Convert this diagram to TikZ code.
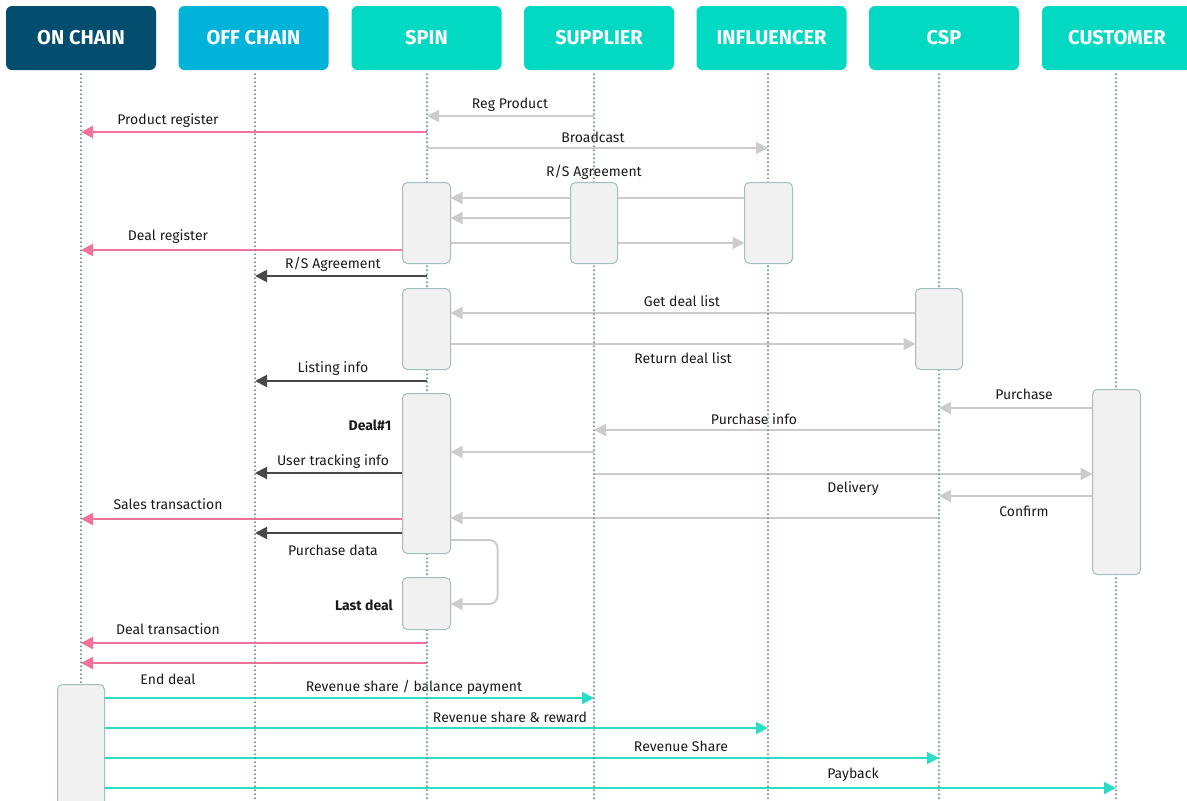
\documentclass[tikz,border=0pt]{standalone}
\usepackage{fontspec}
\setmainfont{Fira Sans}
\usetikzlibrary{arrows.meta}
\definecolor{onc}{HTML}{034D6E}
\definecolor{offc}{HTML}{02B3D9}
\definecolor{tealc}{HTML}{02D9C2}
\definecolor{pinkc}{HTML}{F2729A}
\definecolor{darkc}{HTML}{484848}
\definecolor{grayc}{HTML}{CCCCCC}
\definecolor{tarrc}{HTML}{2BDCC6}
\definecolor{lifec}{HTML}{6F9495}
\definecolor{actb}{HTML}{A3BFBD}
\definecolor{actf}{HTML}{F1F1F1}
\definecolor{txtc}{HTML}{1A1A1A}
\tikzset{
  hdr/.style={rounded corners=6pt, inner sep=0pt, minimum width=150pt, minimum height=64pt,
    text=white, font=\bfseries\fontsize{20}{24}\selectfont},
  life/.style={draw=lifec, line width=2.3pt, line cap=round, dash pattern=on 0pt off 4pt},
  act/.style={draw=actb, fill=actf, rounded corners=5pt, line width=1pt, inner sep=0pt, minimum width=47pt},
  arr/.style={line width=2pt, -{Triangle[length=12pt,width=12pt]}},
  garr/.style={arr, draw=grayc},
  parr/.style={arr, draw=pinkc},
  darr/.style={arr, draw=darkc},
  tarr/.style={arr, draw=tarrc},
  lbl/.style={inner sep=0pt, text=txtc, font=\fontsize{14}{16}\selectfont},
  blbl/.style={lbl, font=\bfseries\fontsize{14}{16}\selectfont},
}
\begin{document}
\begin{tikzpicture}[x=1pt,y=-1pt]
\useasboundingbox (0,0) rectangle (1187,801);
% headers
\node[hdr, fill=onc] (hon) at (81,38) {ON CHAIN};
\node[hdr, fill=offc] (hoff) at (253.5,38) {OFF CHAIN};
\node[hdr, fill=tealc] (hspin) at (426.5,38) {SPIN};
\node[hdr, fill=tealc] (hsup) at (599,38) {SUPPLIER};
\node[hdr, fill=tealc] (hinf) at (771.5,38) {INFLUENCER};
\node[hdr, fill=tealc] (hcsp) at (944,38) {CSP};
\node[hdr, fill=tealc] (hcus) at (1117,38) {CUSTOMER};
% lifeline coordinates
\coordinate (Lon) at (81,0);
\coordinate (Loff) at (255,0);
\coordinate (Lspin) at (427,0);
\coordinate (Lsup) at (594,0);
\coordinate (Linf) at (768,0);
\coordinate (Lcsp) at (939,0);
\coordinate (Lcus) at (1116,0);
\coordinate (Bon) at (81,801);
\coordinate (Boff) at (255,801);
\coordinate (Bspin) at (427,801);
\coordinate (Bsup) at (594,801);
\coordinate (Binf) at (768,801);
\coordinate (Bcsp) at (939,801);
\coordinate (Bcus) at (1116,801);
% activation boxes (placed as nodes, drawn later)
\path
  node[act, draw=none, fill=none, minimum height=80pt] (sa1) at (426.5,223) {}
  node[act, draw=none, fill=none, minimum width=46pt, minimum height=80pt] (pa1) at (594,223) {}
  node[act, draw=none, fill=none, minimum height=80pt] (ia1) at (768.5,223) {}
  node[act, draw=none, fill=none, minimum height=80pt] (sa2) at (426.5,329) {}
  node[act, draw=none, fill=none, minimum width=46pt, minimum height=80pt] (ca1) at (939,329) {}
  node[act, draw=none, fill=none, minimum height=159pt] (sa3) at (426.5,473.5) {}
  node[act, draw=none, fill=none, minimum height=184pt] (ua1) at (1116.5,482) {}
  node[act, draw=none, fill=none, minimum height=51pt] (sa4) at (426.5,603.5) {}
  node[act, draw=none, fill=none, minimum width=46pt, minimum height=130pt] (oa1) at (81,750) {};
% messages
\draw[garr] (Lsup |- 0,116) -- (Lspin |- 0,116);
\node[lbl] (l1) at (510,105) {Reg Product};
\draw[parr] (Lspin |- 0,132) -- (Lon |- 0,132);
\node[lbl] (l2) at (168,121) {Product register};
\draw[garr] (Lspin |- 0,148) -- (Linf |- 0,148);
\node[lbl] (l3) at (593,137) {Broadcast};
\node[lbl] (l4) at (594,172) {R/S Agreement};
\draw[garr] (ia1.west |- 0,198) -- (sa1.east |- 0,198);
\draw[garr] (pa1.west |- 0,218) -- (sa1.east |- 0,218);
\draw[garr] (sa1.east |- 0,243) -- (ia1.west |- 0,243);
\draw[parr] (sa1.west |- 0,250) -- (Lon |- 0,250);
\node[lbl] (l5) at (168,237) {Deal register};
\draw[darr] (Lspin |- 0,276) -- (Loff |- 0,276);
\node[lbl] (l6) at (333,264) {R/S Agreement};
\draw[garr] (ca1.west |- 0,313) -- (sa2.east |- 0,313);
\node[lbl] (l7) at (682,301) {Get deal list};
\draw[garr] (sa2.east |- 0,344) -- (ca1.west |- 0,344);
\node[lbl] (l8) at (683,358) {Return deal list};
\draw[darr] (Lspin |- 0,381) -- (Loff |- 0,381);
\node[lbl] (l9) at (333,369) {Listing info};
\draw[garr] (ua1.west |- 0,408) -- (Lcsp |- 0,408);
\node[lbl] (l10) at (1024,394) {Purchase};
\node[blbl] (l11) at (370,425) {Deal\#1};
\draw[garr] (Lcsp |- 0,430) -- (Lsup |- 0,430);
\node[lbl] (l12) at (754,419) {Purchase info};
\draw[garr] (Lsup |- 0,452) -- (sa3.east |- 0,452);
\draw[darr] (sa3.west |- 0,473) -- (Loff |- 0,473);
\node[lbl] (l13) at (333,462) {User tracking info};
\draw[garr] (Lsup |- 0,474) -- (ua1.west |- 0,474);
\node[lbl] (l14) at (853,489) {Delivery};
\draw[garr] (ua1.west |- 0,496) -- (Lcsp |- 0,496);
\node[lbl] (l15) at (1024,511) {Confirm};
\draw[garr] (Lcsp |- 0,518) -- (sa3.east |- 0,518);
\draw[parr] (sa3.west |- 0,519) -- (Lon |- 0,519);
\node[lbl] (l16) at (168,504) {Sales transaction};
\draw[darr] (sa3.west |- 0,533) -- (Loff |- 0,533);
\node[lbl] (l17) at (333,550) {Purchase data};
\draw[garr, rounded corners=8pt] (sa3.east |- 0,540) -- (497.5,540) -- (497.5,604) -- (sa4.east |- 0,604);
\node[blbl] (l18) at (364,605) {Last deal};
\draw[parr] (Lspin |- 0,643) -- (Lon |- 0,643);
\node[lbl] (l19) at (168,629) {Deal transaction};
\draw[parr] (Lspin |- 0,663) -- (Lon |- 0,663);
\node[lbl] (l20) at (168,679) {End deal};
\draw[tarr] (oa1.east |- 0,698) -- (Lsup |- 0,698);
\node[lbl] (l21) at (414,687) {Revenue share / balance payment};
\draw[tarr] (oa1.east |- 0,728) -- (Linf |- 0,728);
\node[lbl] (l22) at (510,717) {Revenue share \& reward};
\draw[tarr] (oa1.east |- 0,758) -- (Lcsp |- 0,758);
\node[lbl] (l23) at (681,746) {Revenue Share};
\draw[tarr] (oa1.east |- 0,788) -- (Lcus |- 0,788);
\node[lbl] (l24) at (853,775) {Payback};
% lifelines
\draw[life] (hon.south -| Lon) ++(0,4) -- (Bon);
\draw[life] (hoff.south -| Loff) ++(0,4) -- (Boff);
\draw[life] (hspin.south -| Lspin) ++(0,4) -- (Bspin);
\draw[life] (hsup.south -| Lsup) ++(0,4) -- (Bsup);
\draw[life] (hinf.south -| Linf) ++(0,4) -- (Binf);
\draw[life] (hcsp.south -| Lcsp) ++(0,4) -- (Bcsp);
\draw[life] (hcus.south -| Lcus) ++(0,4) -- (Bcus);
% activation boxes drawn on top
\foreach \b in {sa1,pa1,ia1,sa2,ca1,sa3,ua1,sa4,oa1}
  \draw[draw=actb, fill=actf, rounded corners=5pt, line width=1pt] (\b.south west) rectangle (\b.north east);
\end{tikzpicture}
\end{document}
